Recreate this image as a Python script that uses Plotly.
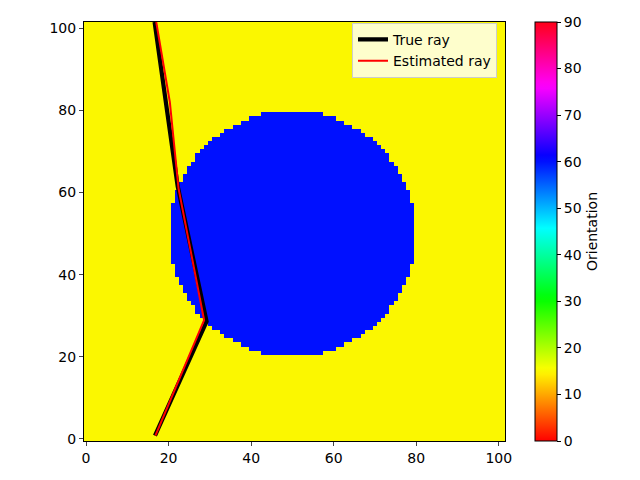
import plotly.graph_objects as go

# ── Data ──────────────────────────────────────────────────────────────────────
GRID_N = 102                 # cells per side (0..101)
BG_VALUE = 15                # background orientation
INCL_VALUE = 60              # inclusion orientation
INCL_CX, INCL_CY = 50, 50    # inclusion centre cell
# half-width (in cells) of the inclusion for row offsets 0..29 from its centre
INCL_HALF_WIDTH = [29, 29, 29, 29, 29, 29, 29, 29, 28, 28, 28, 27, 27, 26, 26,
                   25, 25, 24, 23, 23, 22, 21, 20, 19, 17, 16, 14, 12, 10, 7]

true_x = [16.7, 29.2, 22.2, 16.6]
true_y = [0.8, 28.6, 61.5, 101.5]

est_x = [16.8, 28.6, 22.4, 20.3, 17.0]
est_y = [0.8, 28.9, 61.0, 82.0, 101.5]

cbar_ticks = [0, 10, 20, 30, 40, 50, 60, 70, 80, 90]
axis_ticks = [0, 20, 40, 60, 80, 100]

# ── Grid ──────────────────────────────────────────────────────────────────────
z = [[BG_VALUE] * GRID_N for _ in range(GRID_N)]
for dy, hw in enumerate(INCL_HALF_WIDTH):
    for row in {INCL_CY + dy, INCL_CY - dy}:
        for col in range(INCL_CX - hw, INCL_CX + hw + 1):
            z[row][col] = INCL_VALUE

# matplotlib "hsv" colormap
_r = [(0, 1), (0.158730, 1), (0.174603, 0.96875), (0.333333, 0.03125), (0.349206, 0),
      (0.666667, 0), (0.682540, 0.03125), (0.841270, 0.96875), (0.857143, 1), (1, 1)]
_g = [(0, 0), (0.158730, 0.9375), (0.174603, 1), (0.507937, 1), (0.666667, 0.0625),
      (0.682540, 0), (1, 0)]
_b = [(0, 0), (0.333333, 0), (0.349206, 0.0625), (0.507937, 1), (0.841270, 1),
      (0.857143, 0.9375), (1, 0.09375)]


def _interp(pts, t):
    for (x0, y0), (x1, y1) in zip(pts[:-1], pts[1:]):
        if x0 <= t <= x1:
            return y0 + (y1 - y0) * (t - x0) / (x1 - x0) if x1 > x0 else y0
    return pts[-1][1]


_stops = sorted({p[0] for p in _r + _g + _b})
HSV = [[t, "rgb(%d,%d,%d)" % (round(255 * _interp(_r, t)),
                              round(255 * _interp(_g, t)),
                              round(255 * _interp(_b, t)))] for t in _stops]

FONT = "DejaVu Sans"
FS = 14

fig = go.Figure()

fig.add_trace(go.Heatmap(
    z=z,
    x=list(range(GRID_N)),
    y=list(range(GRID_N)),
    zmin=0, zmax=90,
    colorscale=HSV,
    zsmooth=False,
    showlegend=False,
    colorbar=dict(
        x=1.071, xanchor="left", xref="paper", xpad=0,
        y=0.5, yanchor="middle", len=1.0, lenmode="fraction", ypad=0,
        thickness=22, thicknessmode="pixels",
        outlinewidth=1, outlinecolor="black",
        tickvals=cbar_ticks, ticks="outside", ticklen=4, tickcolor="black",
        tickfont=dict(family=FONT, size=FS, color="black"),
        title=dict(text="Orientation", side="right",
                   font=dict(family=FONT, size=FS, color="black")),
    ),
))

fig.add_trace(go.Scatter(
    x=true_x, y=true_y, mode="lines",
    line=dict(color="black", width=4.2),
    name="True ray",
))
fig.add_trace(go.Scatter(
    x=est_x, y=est_y, mode="lines",
    line=dict(color="red", width=2),
    name="Estimated ray",
))

# page body adds an 8px offset, so the figure is 632x472 with matching margins
fig.update_layout(
    width=632, height=472,
    margin=dict(l=76, r=135, t=12, b=39),
    paper_bgcolor="white", plot_bgcolor="white",
    font=dict(family=FONT, size=FS, color="black"),
    showlegend=True,
    legend=dict(
        x=0.981, xanchor="right", y=0.998, yanchor="top",
        bgcolor="rgba(255,255,255,0.8)", bordercolor="#cccccc", borderwidth=1,
        font=dict(family=FONT, size=FS, color="black"),
        tracegroupgap=0,
    ),
)
fig.update_xaxes(
    range=[-0.5, 101.5], tickvals=axis_ticks, ticks="outside", ticklen=4,
    showline=True, linecolor="black", linewidth=1, mirror=True,
    showgrid=False, zeroline=False,
    tickfont=dict(family=FONT, size=FS, color="black"),
)
fig.update_yaxes(
    range=[-0.5, 101.5], tickvals=axis_ticks, ticks="outside", ticklen=4,
    showline=True, linecolor="black", linewidth=1, mirror=True,
    showgrid=False, zeroline=False,
    tickfont=dict(family=FONT, size=FS, color="black"),
)

fig.write_html("out.html")
